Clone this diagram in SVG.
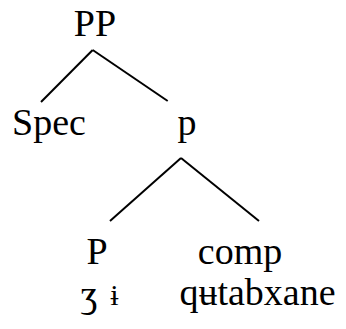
<svg xmlns="http://www.w3.org/2000/svg" width="346" height="329" viewBox="0 0 346 329">
<style>
.t{font-family:"Liberation Serif","Times New Roman",serif;font-size:38px;fill:#000;text-anchor:middle}
.e{stroke:#000;stroke-width:2;fill:none}
</style>
<rect width="346" height="329" fill="#fff"/>
<g id="edges">
<line class="e" x1="92.7" y1="50" x2="41" y2="102"/>
<line class="e" x1="92.7" y1="50" x2="167.7" y2="101"/>
<line class="e" x1="181" y1="158" x2="110" y2="221"/>
<line class="e" x1="181" y1="158" x2="259" y2="221"/>
</g>
<g id="PP"><text class="t" x="95" y="36">PP</text></g>
<g id="Spec"><text class="t" x="49" y="135">Spec</text></g>
<g id="p"><text class="t" x="187" y="135">p</text></g>
<g id="P"><text class="t" x="97" y="264">P</text><text class="t" x="89" y="307">ʒ</text><text class="t" x="114.5" y="305" style="font-size:30px">ɨ</text></g>
<g id="comp"><text class="t" x="240" y="264">comp</text><text class="t" x="257.5" y="305">qʉtabxane</text></g>
</svg>
